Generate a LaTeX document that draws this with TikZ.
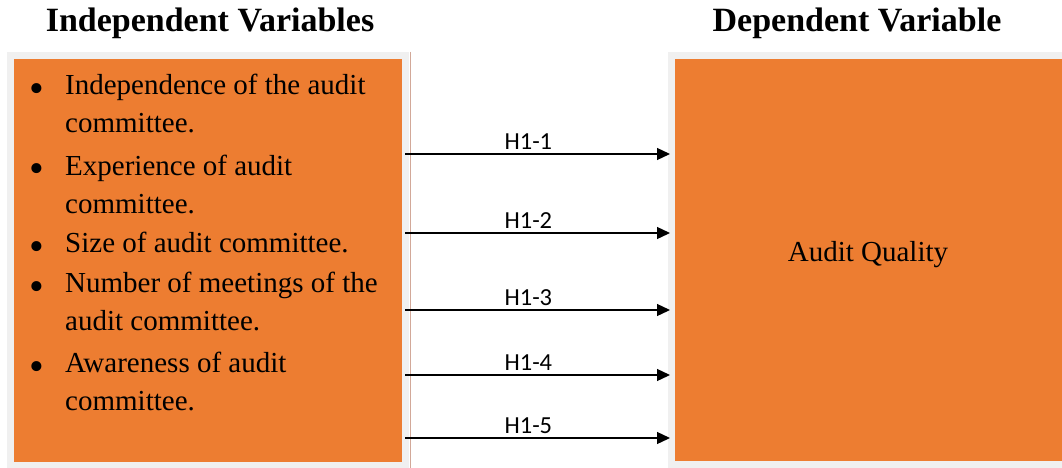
\documentclass[tikz,border=0pt]{standalone}
\usepackage{fontspec}
\setmainfont{Liberation Serif}
\newfontfamily\calib{Carlito}
\usetikzlibrary{arrows.meta}
\definecolor{boxorange}{HTML}{ED7D31}
\definecolor{framegray}{HTML}{F0F0F0}
\definecolor{sepline}{HTML}{D2A898}
\newcommand\bitem[1]{\llap{\raisebox{-8pt}{\scalebox{1.45}{\textbullet}}\hspace{21pt}}\begin{tabular}[t]{@{}l@{}}#1\end{tabular}}
\begin{document}
\begin{tikzpicture}[x=1pt,y=-1pt,
  frame/.style={fill=framegray, draw=none, inner sep=0pt, anchor=north west},
  obox/.style={fill=boxorange, draw=none, inner sep=0pt, anchor=north west},
  title/.style={font=\fontsize{34}{40}\selectfont\bfseries, anchor=base, inner sep=0pt},
  itemtext/.style={font=\fontsize{29}{38}\selectfont, anchor=base west, inner sep=0pt},
  hyp/.style={-{Triangle[length=13pt,width=12pt]}, line width=1.3pt, shorten <=-4pt, shorten >=-2pt},
  hlabel/.style={font=\calib\fontsize{24.5}{28}\selectfont, inner sep=0pt, above=4pt, pos=0.46}
]
\useasboundingbox (0,0) rectangle (1062,468);
\fill[white] (0,0) rectangle (1062,468);
% frames and boxes
\node[frame, minimum width=402pt, minimum height=416pt] (lf) at (7,52) {};
\node[obox, minimum width=388pt, minimum height=403pt] (lo) at (14,59) {};
\node[frame, minimum width=394pt, minimum height=416pt] (rf) at (668,52) {};
\node[obox, minimum width=387pt, minimum height=402pt] (ro) at (675,59) {};
\draw[sepline, line width=1.2pt] ([xshift=1pt]lf.north east) -- ([xshift=1pt]lf.south east);
% titles
\node[title] (t1) at (210,32) {Independent Variables};
\node[title] (t2) at (857,32) {Dependent Variable};
% items
\node[itemtext] (i1) at (65,95) {\bitem{Independence of the audit\\committee.}};
\node[itemtext] (i2) at (65,175) {\bitem{Experience of audit\\committee.}};
\node[itemtext] (i3) at (65,252) {\bitem{Size of audit committee.}};
\node[itemtext] (i4) at (65,292) {\bitem{Number of meetings of the\\audit committee.}};
\node[itemtext] (i5) at (65,372) {\bitem{Awareness of audit\\committee.}};
% dependent variable
\node[itemtext, anchor=base] (aq) at (868,261) {Audit Quality};
% arrows
\foreach \y/\t in {154/H1-1,233/H1-2,310/H1-3,375/H1-4,438/H1-5}{
  \draw[hyp] (lf.east |- 0,\y) -- node[hlabel] {\t} (rf.west |- 0,\y);
}
\end{tikzpicture}
\end{document}
